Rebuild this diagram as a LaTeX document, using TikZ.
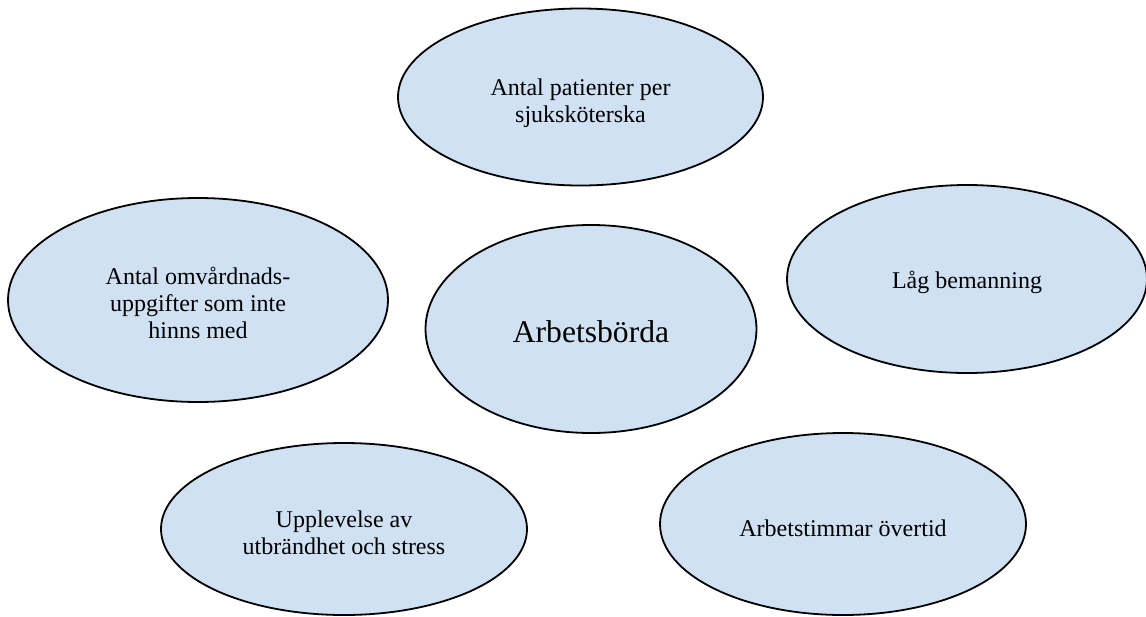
\documentclass[tikz,border=0pt]{standalone}
\usepackage{fontspec}
\setmainfont{Liberation Serif}
\usetikzlibrary{shapes.geometric}
\definecolor{bub}{RGB}{207,225,242}
\begin{document}
\begin{tikzpicture}[x=0.5pt,y=-0.5pt,
  bubble/.style={ellipse, draw=black, line width=0.9pt, fill=bub, inner sep=0pt},
  btext/.style={align=center, inner sep=0pt, font=\fontsize{12}{13.3}\selectfont},
  bigtext/.style={align=center, inner sep=0pt, font=\fontsize{15.8}{18}\selectfont}
]
\useasboundingbox (0,0) rectangle (1146,616);
\node[bubble, minimum width=182.5pt, minimum height=88.5pt] (top) at (580.5,97) {};
\node[bubble, minimum width=190pt, minimum height=102pt] (left) at (198,300) {};
\node[bubble, minimum width=165.5pt, minimum height=104pt] (center) at (591,329) {};
\node[bubble, minimum width=180pt, minimum height=94pt] (right) at (967,279) {};
\node[bubble, minimum width=183pt, minimum height=86pt] (botleft) at (344,529) {};
\node[bubble, minimum width=183pt, minimum height=91pt] (botright) at (843,524) {};
\node[btext] (ttop) at ([yshift=-3pt]top.center) {Antal patienter per\\sjuksköterska};
\node[btext] (tleft) at ([yshift=-1.5pt]left.center) {Antal omvårdnads-\\uppgifter som inte\\hinns med};
\node[bigtext] (tcenter) at ([yshift=-1.5pt]center.center) {Arbetsbörda};
\node[btext] (tright) at ([yshift=-1.5pt]right.center) {Låg bemanning};
\node[btext] (tbotleft) at ([yshift=-2pt]botleft.center) {Upplevelse av\\utbrändhet och stress};
\node[btext] (tbotright) at ([yshift=-2pt]botright.center) {Arbetstimmar övertid};
\end{tikzpicture}
\end{document}
